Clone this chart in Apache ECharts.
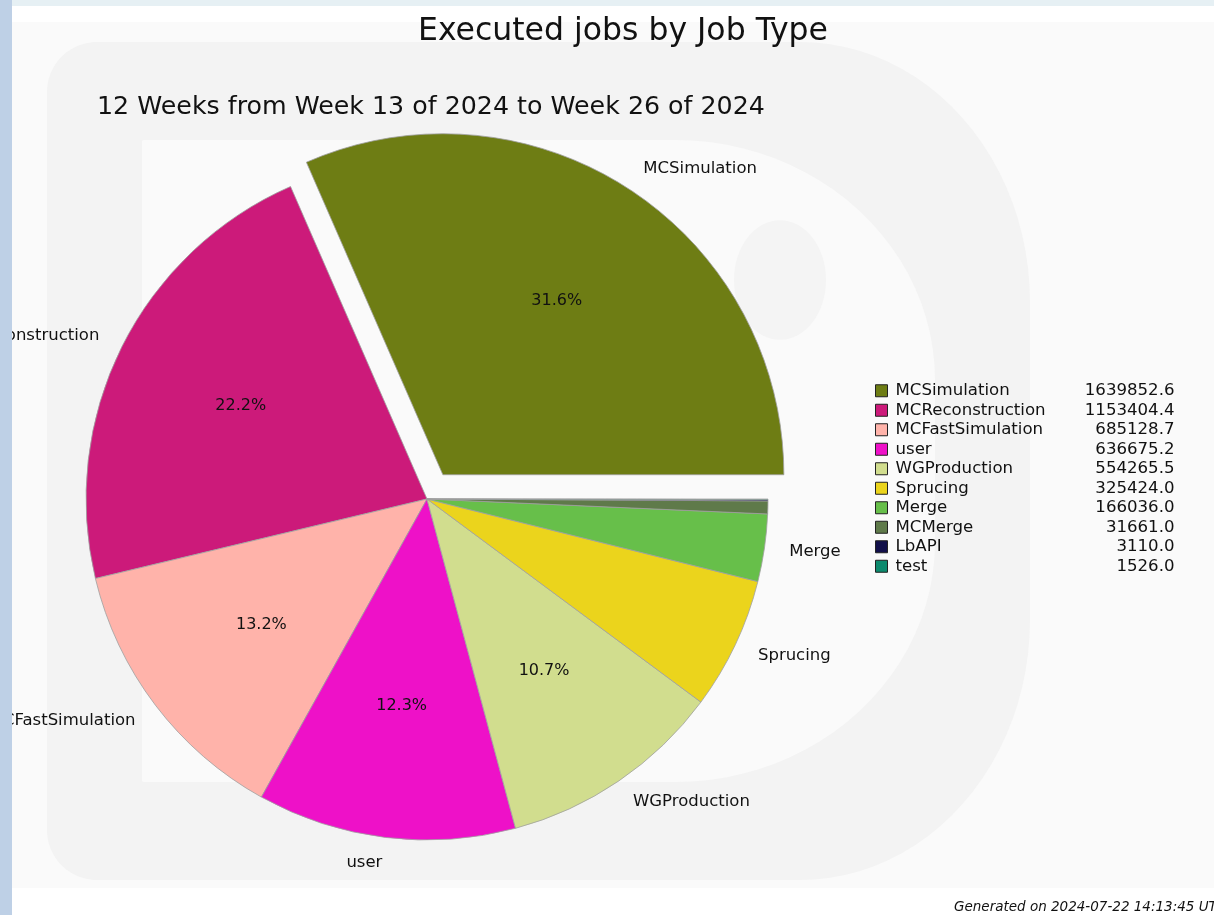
<!DOCTYPE html>
<html>
<head>
<meta charset="utf-8">
<title>Executed jobs by Job Type</title>
<script src="https://cdn.jsdelivr.net/npm/echarts@6/dist/echarts.min.js"></script>
<style>
  html, body { margin: 0; padding: 0; background: #fff; }
  #chart { width: 1214px; height: 915px; }
</style>
</head>
<body>
<div id="chart"></div>
<script>
const jobTypes = ['MCSimulation', 'MCReconstruction', 'MCFastSimulation', 'user', 'WGProduction',
  'Sprucing', 'Merge', 'MCMerge', 'LbAPI', 'test'];
const jobCounts = [1639852.6, 1153404.4, 685128.7, 636675.2, 554265.5, 325424.0, 166036.0, 31661.0, 3110.0, 1526.0];
const sliceColors = ['#6e7d14', '#cc1a7a', '#ffb3aa', '#ee11c8', '#d1dd8e', '#ebd41c', '#67bf4a', '#5f7a4a', '#12104a', '#0d8a6e'];
const explodedType = 'MCSimulation';

const total = jobCounts.reduce((a, b) => a + b, 0);
const pct = v => v / total * 100;
const font = 'DejaVu Sans';

// watermark "D" outline: straight left side, elliptical corners on the right
function dShape(x0, y0, x1, y1, rx, ry, rl) {
  const pts = [];
  const arc = (cx, cy, ax, ay, a0, a1) => {
    for (let k = 0; k <= 24; k++) {
      const a = a0 + (a1 - a0) * k / 24;
      pts.push([cx + ax * Math.cos(a), cy + ay * Math.sin(a)]);
    }
  };
  arc(x0 + rl, y0 + rl, rl, rl, Math.PI, 1.5 * Math.PI);
  arc(x1 - rx, y0 + ry, rx, ry, 1.5 * Math.PI, 2 * Math.PI);
  arc(x1 - rx, y1 - ry, rx, ry, 0, 0.5 * Math.PI);
  arc(x0 + rl, y1 - rl, rl, rl, 0.5 * Math.PI, Math.PI);
  return pts;
}

const chart = echarts.init(document.getElementById('chart'));

const pieData = jobTypes.map((name, i) => ({
  name,
  value: jobCounts[i],
  selected: name === explodedType,
  itemStyle: { color: sliceColors[i] },
  label: { show: pct(jobCounts[i]) >= 1 }
}));

// transparent copy that only carries the percent labels (placed at 0.6 r)
const pctData = jobTypes.map((name, i) => ({
  name,
  value: jobCounts[i],
  selected: name === explodedType,
  label: { show: pct(jobCounts[i]) >= 10 }
}));

const option = {
  animation: false,
  title: [
    {
      text: 'Executed jobs by Job Type',
      left: 413, top: 11,
      textStyle: { fontFamily: font, fontSize: 31.5, fontWeight: 'normal', color: '#111' }
    },
    {
      text: '12 Weeks from Week 13 of 2024 to Week 26 of 2024',
      left: 92, top: 90,
      textStyle: { fontFamily: font, fontSize: 25.3, fontWeight: 'normal', color: '#111' }
    }
  ],
  graphic: [
    { type: 'rect', z: -10, shape: { x: 0, y: 0, width: 1214, height: 915 }, style: { fill: '#e6f0f4' } },
    { type: 'rect', z: -9, shape: { x: 12, y: 6, width: 1202, height: 909 }, style: { fill: '#ffffff' } },
    { type: 'rect', z: -8, shape: { x: 12, y: 22, width: 1202, height: 866 }, style: { fill: '#fafafa' } },
    { type: 'polygon', z: -7, shape: { points: dShape(47, 42, 1030, 880, 230, 260, 50) }, style: { fill: '#f3f3f3' } },
    { type: 'polygon', z: -6, shape: { points: dShape(142, 140, 935, 782, 260, 240, 2) }, style: { fill: '#fafafa' } },
    {
      type: 'circle', z: -5, x: 780, y: 280, scaleY: 1.3,
      shape: { cx: 0, cy: 0, r: 46 }, style: { fill: '#f4f4f4' }
    },
    { type: 'rect', z: 100, shape: { x: 0, y: 0, width: 12, height: 915 }, style: { fill: '#bed0e6' } },
    {
      type: 'text', left: 954, top: 900,
      style: { text: 'Generated on 2024-07-22 14:13:45 UTC', font: 'italic 13.5px "DejaVu Sans"', fill: '#111' }
    }
  ],
  legend: {
    orient: 'vertical',
    left: 870, top: 376,
    itemWidth: 12, itemHeight: 12, itemGap: 0,
    icon: 'rect',
    selectedMode: false,
    data: jobTypes,
    itemStyle: { borderColor: '#222', borderWidth: 1 },
    formatter: name => '{n|' + name + '}{v|' + jobCounts[jobTypes.indexOf(name)].toFixed(1) + '}',
    textStyle: {
      fontFamily: font, fontSize: 16.6, lineHeight: 19.5, color: '#111',
      rich: {
        n: { fontFamily: font, fontSize: 16.6, lineHeight: 19.5, width: 172, padding: [0, 0, 0, 3], color: '#111' },
        v: { fontFamily: font, fontSize: 16.6, lineHeight: 19.5, width: 107, align: 'right', color: '#111' }
      }
    }
  },
  series: [
    {
      type: 'pie',
      center: [427, 499],
      radius: 341,
      startAngle: 0,
      clockwise: false,
      selectedMode: 'single',
      selectedOffset: 29,
      avoidLabelOverlap: false,
      emphasis: { disabled: true },
      itemStyle: { borderColor: '#a0a0a0', borderWidth: 0.8 },
      label: {
        position: 'outside',
        distanceToLabelLine: 0,
        fontFamily: font, fontSize: 16.5, color: '#111',
        formatter: '{b}'
      },
      labelLine: { show: false, length: 25, length2: 0 },
      data: pieData
    },
    {
      type: 'pie',
      silent: true,
      center: [427, 499],
      radius: 410,
      startAngle: 0,
      clockwise: false,
      selectedMode: 'single',
      selectedOffset: 29,
      avoidLabelOverlap: false,
      emphasis: { disabled: true },
      itemStyle: { color: 'rgba(0,0,0,0)', borderWidth: 0 },
      label: {
        position: 'inside',
        fontFamily: font, fontSize: 16, color: '#111',
        formatter: p => pct(p.value).toFixed(1) + '%'
      },
      labelLine: { show: false },
      data: pctData
    }
  ]
};

chart.setOption(option);
</script>
</body>
</html>
